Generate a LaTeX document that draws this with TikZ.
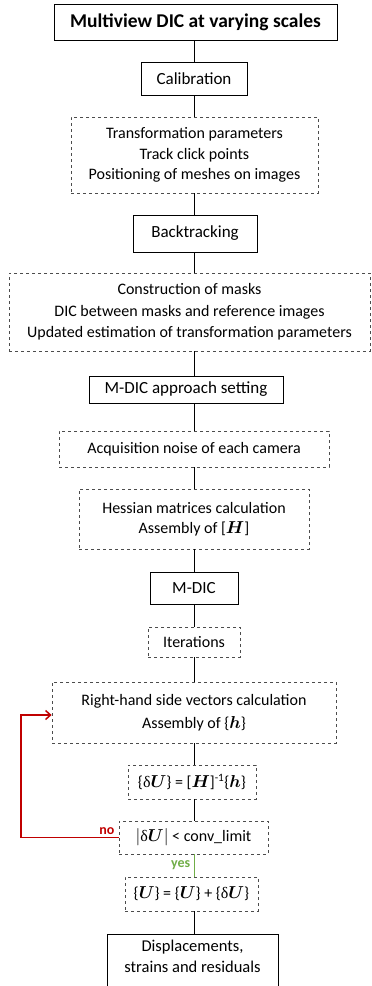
\documentclass[tikz,border=0pt]{standalone}
\usepackage{amsmath}
\usepackage{fontspec}
\setmainfont{Carlito}
\newfontfamily\greekserif{Liberation Serif}
\usetikzlibrary{arrows.meta}
\definecolor{noRed}{RGB}{192,0,0}
\definecolor{yesGreen}{RGB}{112,173,71}
\newcommand{\dlt}{{\greekserif δ}}
\begin{document}
\begin{tikzpicture}[x=1pt,y=-1pt,
    solidbox/.style={draw=black,line width=0.9pt,align=center,inner sep=0pt,
        font=\fontsize{17}{21}\selectfont},
    dashbox/.style={draw=black!70,dashed,line width=0.7pt,align=center,inner sep=0pt,
        font=\fontsize{16}{20.5}\selectfont},
    link/.style={line width=1pt},
    noline/.style={draw=noRed,line width=1.5pt,-{Straight Barb[length=5pt,width=9pt]}}]
    \useasboundingbox (0,0) rectangle (372,986);
    % \draw[help lines, color=gray!30, dashed] (0,0) grid[step=20] (372,986);
    \coordinate (spine) at (194,0);

    \node[solidbox,minimum width=283,minimum height=36,font=\bfseries\fontsize{19.5}{22}\selectfont] (title) at (195.5,22) {Multiview DIC at varying scales};
    \node[solidbox,minimum width=106,minimum height=33] (calib) at (194,78.5) {Calibration};
    \node[dashbox,minimum width=247,minimum height=76] (transf) at (194.5,155)
        {Transformation parameters\\Track click points\\Positioning of meshes on images};
    \node[solidbox,minimum width=124,minimum height=37] (back) at (195,233.5) {Backtracking};
    \node[dashbox,minimum width=361,minimum height=78,font=\fontsize{16}{21.5}\selectfont] (masks) at (189.5,312)
        {Construction of masks\\DIC between masks and reference images\\Updated estimation of transformation parameters};
    \node[solidbox,minimum width=194,minimum height=27] (approach) at (186,389.5) {M-DIC approach setting};
    \node[dashbox,minimum width=270,minimum height=36] (noise) at (194,449) {Acquisition noise of each camera};
    \node[dashbox,minimum width=230,minimum height=60] (hessian) at (194,519)
        {Hessian matrices calculation\\Assembly of [$\boldsymbol{H}$]};
    \node[solidbox,minimum width=88,minimum height=32] (mdic) at (194,588) {M-DIC};
    \node[dashbox,minimum width=92,minimum height=30] (iter) at (194,642) {Iterations};
    \node[dashbox,minimum width=284,minimum height=61,font=\fontsize{16}{23}\selectfont] (rhs) at (194,712.5)
        {Right-hand side vectors calculation\\Assembly of \{$\boldsymbol{h}$\}};
    \node[dashbox,minimum width=128,minimum height=34] (incr) at (192,782)
        {\{\dlt$\boldsymbol{U}$\} = [$\boldsymbol{H}$]$^{\text{-1}}$\{$\boldsymbol{h}$\}};
    \node[dashbox,minimum width=149,minimum height=33] (conv) at (193.5,837.5)
        {$|$\dlt$\boldsymbol{U}|$ < conv\_limit};
    \node[dashbox,minimum width=133,minimum height=34] (upd) at (191.5,894)
        {\{$\boldsymbol{U}$\} = \{$\boldsymbol{U}$\} + \{\dlt$\boldsymbol{U}$\}};
    \node[solidbox,minimum width=171,minimum height=58,text depth=14,font=\fontsize{16.5}{21}\selectfont] (disp) at (192.5,963)
        {Displacements,\\strains and residuals};

    \foreach \a/\b in {title/calib, calib/transf, transf/back, back/masks, masks/approach,
        approach/noise, noise/hessian, hessian/mdic, mdic/iter, iter/rhs, rhs/incr,
        incr/conv, upd/disp}
        \draw[link] (\a.south -| spine) -- (\b.north -| spine);

    \draw[yesGreen,line width=1pt] (conv.south -| spine) -- node[left,font=\bfseries\fontsize{14}{16}\selectfont]{yes} (upd.north -| spine);

    \coordinate (loop) at (21,715);
    \draw[noline] (conv.west) -| (loop) -- (rhs.west |- loop);
    \node[noRed,font=\bfseries\fontsize{14}{16}\selectfont,anchor=south east,inner sep=2pt] (no) at ([xshift=-2pt,yshift=1pt]conv.west) {no};
\end{tikzpicture}
\end{document}
